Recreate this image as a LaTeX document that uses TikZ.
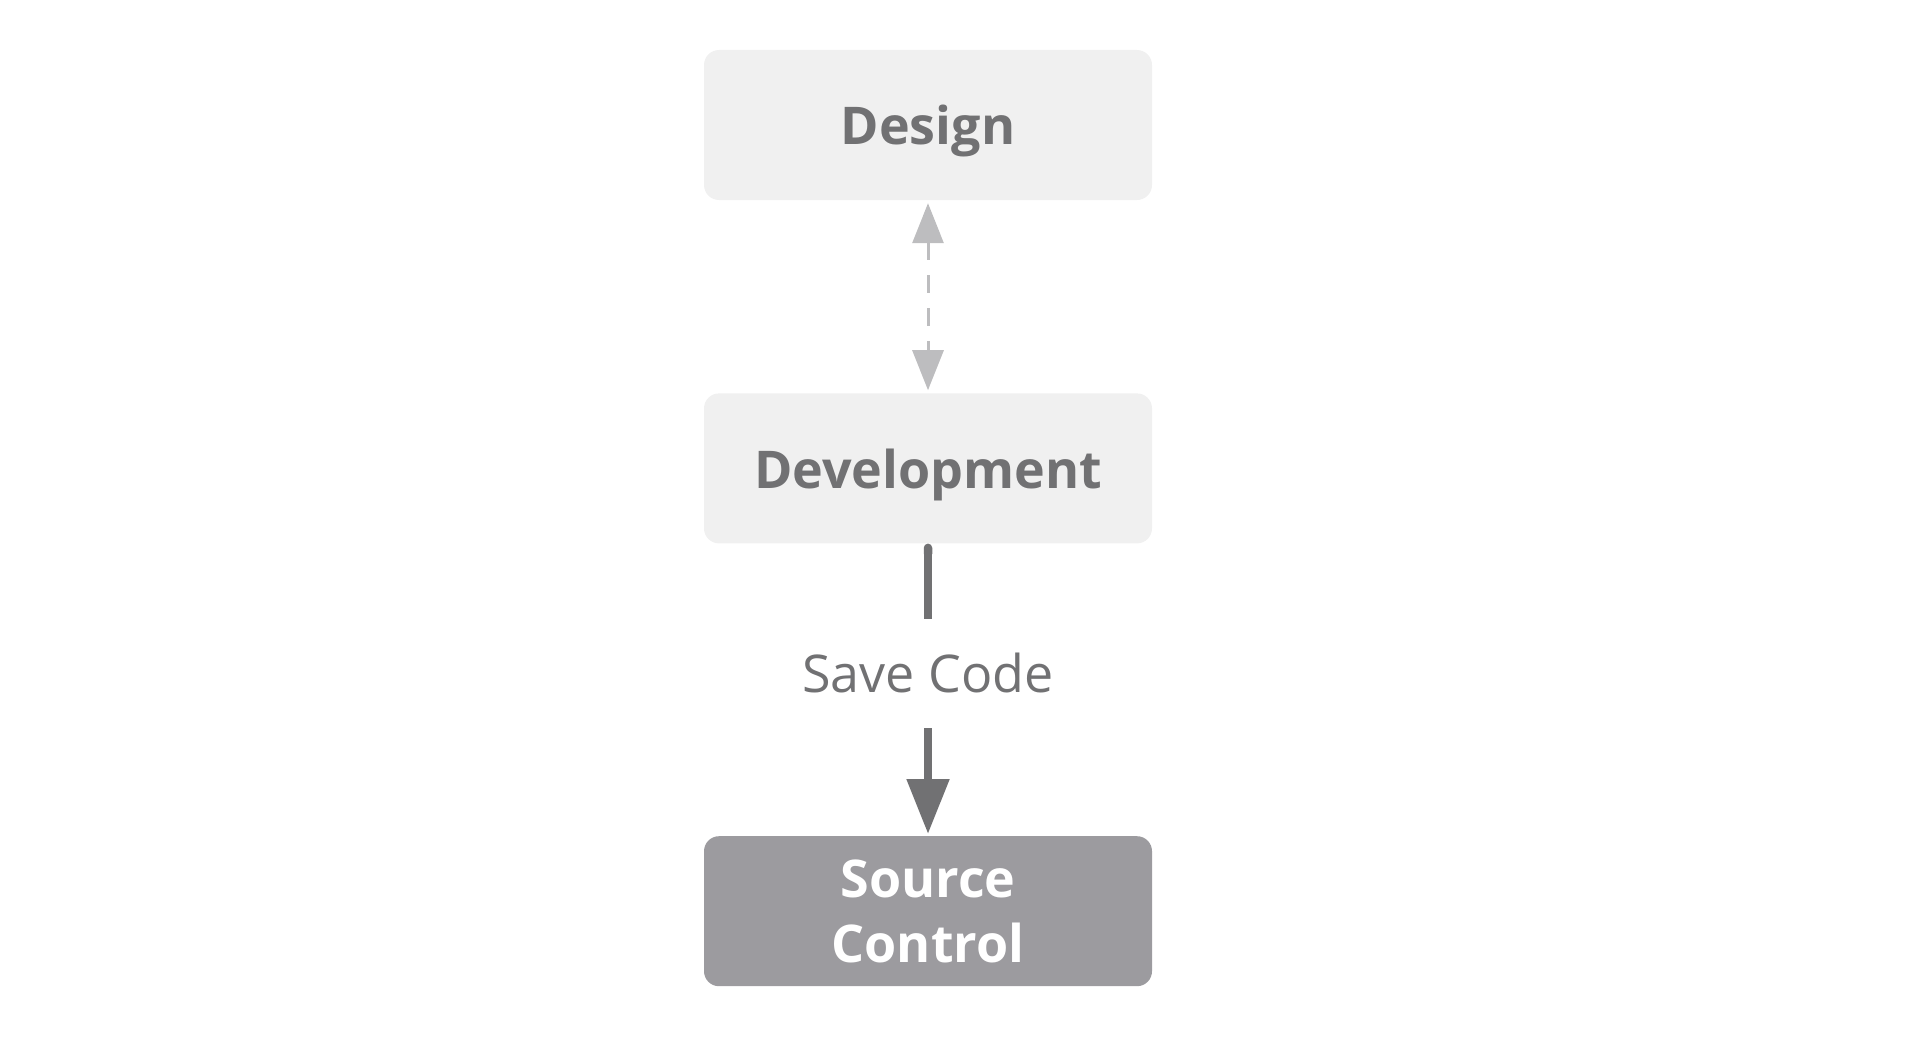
\documentclass[tikz,border=0pt]{standalone}
\usepackage{fontspec}
\setmainfont{Open Sans}
\usetikzlibrary{positioning,arrows.meta}
\definecolor{boxgray}{HTML}{F0F0F0}
\definecolor{textgray}{HTML}{717173}
\definecolor{dashgray}{HTML}{BDBDBF}
\definecolor{srcgray}{HTML}{9C9B9F}

\begin{document}
\begin{tikzpicture}[x=1pt, y=-1pt, node distance=193pt,
        block/.style={rectangle, rounded corners=15pt, fill=boxgray, text=textgray, minimum width=448pt, minimum height=150pt, inner sep=0pt, text depth=0pt, align=center, font=\fontsize{52}{65}\selectfont\bfseries},
        edgetext/.style={text=textgray, minimum height=109pt, inner sep=0pt, font=\fontsize{52}{65}\selectfont},
        dashline/.style={draw=dashgray, line width=3pt, dash pattern=on 18pt off 15pt, {Triangle[length=40pt,width=31pt]}-{Triangle[length=40pt,width=31pt]}, shorten <=3pt, shorten >=3pt},
        flowline/.style={draw=textgray, line width=8.5pt}
    ]
        \useasboundingbox (0,0) rectangle (1916,1041);
        \node [block] (design) at (928,125) {Design};
        \node [block, below=193pt of design] (dev) {Development};
        \node [edgetext, below=75pt of dev] (save) {Save Code};
        \node [block, fill=srcgray, text=white, below=108pt of save] (src) {Source\\Control};

        \draw [dashline] (design) -- (dev);
        \draw [flowline, {Round Cap[]}-] (dev) -- (save);
        \draw [flowline, -{Triangle[length=55pt,width=41pt]}, shorten >=2pt] (save) -- (src);
    \end{tikzpicture}
\end{document}
